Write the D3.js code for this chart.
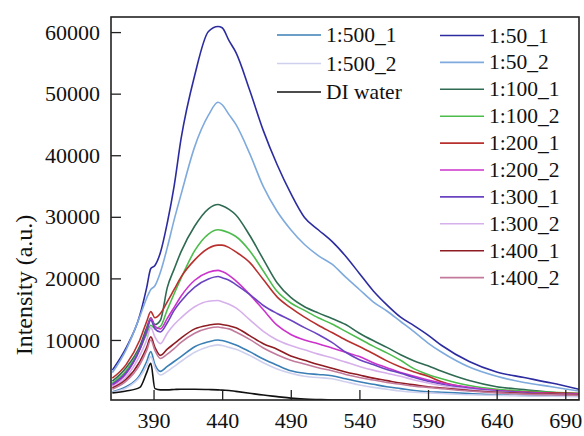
<!DOCTYPE html>
<meta charset="utf-8">
<script src="https://d3js.org/d3.v7.min.js"></script>
<style>
  body { margin: 0; background: #fff; }
</style>
<div id="chart"></div>
<script>
    // wavelength grid (nm)
    const wl = [360,370,380,385,388,391,395,400,405,410,420,430,437,440,445,450,460,470,480,490,500,510,520,530,540,550,560,570,580,590,600,620,640,660,680,700];

    const s500_1 = [1600,2400,4300,6500,8100,6000,4900,5700,6500,7300,8900,9700,10000,9900,9600,9200,8100,6900,5900,5000,4600,4400,4200,3700,3200,2800,2400,2100,1800,1600,1500,1300,1100,1000,900,850];
    const s500_2 = [1500,2200,4000,5800,7300,5500,4300,4900,5700,6500,8000,8900,9200,9100,8800,8500,7500,6300,5300,4600,4100,3900,3700,3200,2700,2300,2000,1700,1500,1400,1300,1100,1000,900,850,800];
    const sWater = [1400,1700,2300,4700,6200,2100,1900,1900,1950,2000,2000,1950,1900,1850,1800,1650,1350,1050,800,550,400,320,260,250,250,250,250,250,250,250,250,250,250,250,250,250];
    const s50_1  = [5100,8700,14000,18500,21600,22100,24200,29000,35000,42600,53000,60100,60900,60700,58600,56700,50600,44000,38500,33800,29900,27900,26000,23600,20800,18000,15700,13700,12300,10800,9100,6500,4800,3900,3000,2000];
    const s50_2  = [4700,8400,13800,16800,18200,18800,21000,25000,29500,33600,41400,46500,48600,48200,46600,45000,40300,34900,30900,27900,25500,23700,22300,20200,18200,16200,14700,13000,11300,9500,8000,5600,4100,3100,2400,1700];
    const s100_1 = [3300,5500,9000,12000,13600,12500,13200,18500,21500,24300,28500,31300,32000,31800,31200,30300,27000,23100,19300,16900,15400,14400,13500,12500,11100,9900,8800,7600,6600,5800,4900,3400,2400,1950,1500,1200];
    const s100_2 = [3000,5000,8500,11000,12400,11900,12200,14900,17500,20000,24500,27200,27900,27800,27400,26800,24500,21200,17900,16000,14800,13600,12600,11400,10200,9000,7900,6700,5300,4400,3700,2600,2000,1700,1500,1350];
    const s200_1 = [3800,6000,10000,13000,14600,13600,14300,16200,18200,20200,23000,24900,25400,25400,25000,24300,22600,19800,17000,15200,13700,12400,11200,10000,8950,7800,6600,5600,4800,4100,3200,2200,1800,1550,1400,1300];
    const s200_2 = [2600,4500,8500,11500,13500,12200,11800,13500,15300,17100,19700,21000,21300,21100,20500,19600,17400,14900,12400,10900,10000,9400,8700,8000,7300,6300,5500,4700,4100,3500,3000,2300,1800,1500,1300,1200];
    const s300_1 = [2800,4700,8500,11500,13200,11800,11300,12800,14800,16300,18600,19900,20300,20100,19700,19000,17400,15600,14300,13200,12000,10900,9600,8000,6800,6000,5200,4600,3900,3300,2800,2100,1700,1400,1200,1100];
    const s300_2 = [2400,4000,7500,10000,12000,10500,9400,11100,12500,13600,15400,16300,16400,16200,15800,15200,13300,11400,10000,9100,8400,7700,7100,6400,5700,5100,4600,4100,3500,3000,2600,2000,1600,1300,1200,1100];
    const s400_1 = [2200,3600,6500,8800,10500,8800,7500,8500,9400,10300,11800,12400,12600,12500,12300,12000,10700,9400,8500,7400,6700,6000,5400,4800,4300,3800,3400,3000,2700,2400,2200,1800,1500,1300,1200,1100];
    const s400_2 = [2000,3300,6000,8300,10000,8300,7000,7700,8600,9600,11100,11900,12100,12000,11800,11300,10100,8700,7600,6700,6100,5500,5000,4400,3900,3500,3100,2800,2500,2300,2100,1700,1400,1200,1100,1000];

    const leftNames  = ["1:500_1","1:500_2","DI water"];
    const leftVals   = [s500_1, s500_2, sWater];
    const leftColors = ["#3a7fb5","#cfd0ee","#111111"];

    const rightNames  = ["1:50_1","1:50_2","1:100_1","1:100_2","1:200_1","1:200_2","1:300_1","1:300_2","1:400_1","1:400_2"];
    const rightVals   = [s50_1, s50_2, s100_1, s100_2, s200_1, s200_2, s300_1, s300_2, s400_1, s400_2];
    const rightColors = ["#2c2ca0","#7eaadd","#2f6b52","#4cbc4c","#b8302e","#cc33cc","#6a44c0","#d6b0ea","#8e1c22","#c27a9c"];

    const xTicks = [390,440,490,540,590,640,690];
    const yTicks = [10000,20000,30000,40000,50000,60000];

    const W = 584, H = 436;
    const margin = {top: 17, right: 5, bottom: 36, left: 111};
    const width = W - margin.left - margin.right,
          height = H - margin.top - margin.bottom;
    const serif = "Liberation Serif";

    const svg = d3.select("#chart").append("svg")
        .attr("width", W).attr("height", H)
        .attr("font-family", serif);
    const g = svg.append("g")
        .attr("transform", `translate(${margin.left},${margin.top})`);

    const x = d3.scaleLinear().domain([359, 700]).range([0, width]);
    const y = d3.scaleLinear().domain([250, 62450]).range([height, 0]);

    g.append("clipPath").attr("id", "clip")
      .append("rect").attr("width", width).attr("height", height);

    const line = d3.line()
        .x((d, i) => x(wl[i]))
        .y(d => y(d))
        .curve(d3.curveMonotoneX);

    const all = leftVals.map((v, i) => ({name: leftNames[i], v, c: leftColors[i]}))
        .concat(rightVals.map((v, i) => ({name: rightNames[i], v, c: rightColors[i]})));

    const plot = g.append("g").attr("clip-path", "url(#clip)");
    plot.selectAll("path")
        .data(all)
        .join("path")
          .attr("d", d => line(d.v))
          .attr("fill", "none")
          .attr("stroke", d => d.c)
          .attr("stroke-width", 1.6);

    // axes, ticks inside
    const xAxis = g.append("g")
        .attr("transform", `translate(0,${height})`)
        .call(d3.axisBottom(x).tickValues(xTicks).tickSize(-10).tickPadding(12));
    const yAxis = g.append("g")
        .call(d3.axisLeft(y).tickValues(yTicks).tickSize(-10).tickPadding(11).tickFormat(d3.format("d")));
    [xAxis, yAxis].forEach(a => {
        a.attr("font-family", serif).attr("font-size", 22);
        a.select(".domain").remove();
        a.selectAll("line").attr("stroke", "#222").attr("stroke-width", 1.3);
        a.selectAll("text").attr("fill", "#111").attr("font-family", serif);
    });

    g.append("rect")
        .attr("width", width).attr("height", height)
        .attr("fill", "none").attr("stroke", "#222").attr("stroke-width", 1.6);

    svg.append("text")
        .attr("transform", "translate(32,285) rotate(-90)")
        .attr("text-anchor", "middle")
        .attr("font-family", serif).attr("font-size", 24)
        .attr("fill", "#111")
        .text("Intensity (a.u.)");

    // legend
    function legend(names, colors, x0, y0, step) {
        const lg = svg.append("g");
        names.forEach((n, i) => {
            const yy = y0 + i * step;
            lg.append("line")
                .attr("x1", x0).attr("x2", x0 + 44)
                .attr("y1", yy).attr("y2", yy)
                .attr("stroke", colors[i]).attr("stroke-width", 1.6);
            lg.append("text")
                .attr("x", x0 + 49).attr("y", yy + 7)
                .attr("font-family", serif).attr("font-size", 21.5)
                .attr("fill", "#111")
                .text(n);
        });
    }
    legend(leftNames, leftColors, 277, 35, 28.5);
    legend(rightNames, rightColors, 440, 35.5, 26.9);
</script>
